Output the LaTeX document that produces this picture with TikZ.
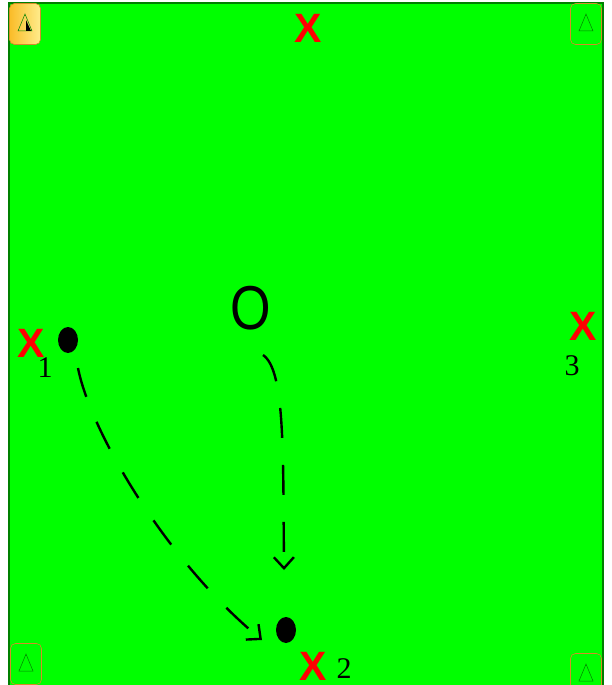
\documentclass[tikz,border=0pt]{standalone}
\usepackage{fontspec}
\setmainfont{Liberation Serif}
\setsansfont{Liberation Sans}
\usetikzlibrary{arrows.meta,calc,positioning,shapes.geometric}
\definecolor{fdGreen}{RGB}{0,255,0}
\definecolor{fdLine}{RGB}{0,128,0}
\definecolor{fdCone}{RGB}{214,140,40}
\definecolor{fdRed}{RGB}{255,0,0}
\definecolor{fdGold}{RGB}{250,188,40}
\definecolor{fdPale}{RGB}{255,236,140}
\tikzset{
  cornerbox/.style={draw=fdCone,rounded corners=5pt,minimum width=31pt,
    minimum height=41pt,inner sep=0pt,line width=0.6pt},
  player/.style={ellipse,fill=black,minimum width=20pt,minimum height=26pt,inner sep=0pt},
  cross/.style={text=fdRed,inner sep=0pt,font=\sffamily\bfseries\fontsize{41}{41}\selectfont},
  num/.style={inner sep=0pt,font=\fontsize{30}{30}\selectfont},
  run/.style={line width=2.4pt,dash pattern=on 30pt off 27pt,
    -{Straight Barb[length=11pt,width=20pt]}}
}
\newcommand{\conemark}[1]{%
  \node[cornerbox] (#1) at (0,0) {};
  \draw[draw=fdLine,line width=0.5pt] (-7,7)--(0,-10)--(7,7)--cycle;
}

\begin{document}
\begin{tikzpicture}[x=1pt,y=-1pt]
  \useasboundingbox (0,0) rectangle (612,685);
  % pitch
  \draw[fill=fdGreen,draw=fdLine,line width=1.5pt] (9,3) rectangle (603,692);
  % cones
  \begin{scope}[shift={(25,24)}]
    \node[cornerbox,left color=fdGold,right color=fdPale] (cTL) at (0,0) {};
    \draw[draw=fdLine,line width=0.5pt] (-7,7)--(0,-10)--(7,7)--cycle;
    \fill[black] (1,-4)--(6,7)--(1,7)--cycle;
  \end{scope}
  \begin{scope}[shift={(586,24)}]\conemark{cTR}\end{scope}
  \begin{scope}[shift={(26,664)}]\conemark{cBL}\end{scope}
  \begin{scope}[shift={(586,674)}]\conemark{cBR}\end{scope}
  % marks
  \node[cross] (xTop) at (308,28) {X};
  \node[cross] (xOne) at (31,343) {X};
  \node[cross] (xThree) at (583,326) {X};
  \node[cross] (xTwo) at (313,666) {X};
  \node[num] (nOne) at (45,368) {1};
  \node[num] (nThree) at (572,366) {3};
  \node[num] (nTwo) at (344,669) {2};
  % players
  \node[player] (pOne) at (68,340) {};
  \node[player] (pTwo) at (286,630) {};
  \node[inner sep=0pt,font=\sffamily\fontsize{62}{62}\selectfont] (ball) at (251,308)
    {\scalebox{0.84}[1]{O}};
  % runs
  \coordinate (runAs) at ([shift={(10,28)}]pOne.center);
  \coordinate (runAe) at ([shift={(-24,10)}]pTwo.center);
  \coordinate (runBs) at ([shift={(12,47)}]ball.center);
  \coordinate (runBe) at ([shift={(-2,-60)}]pTwo.center);
  \draw[run] (runAs) .. controls (90,430) and (165,560) .. (runAe);
  \draw[run] (runBs) .. controls (285,370) and (283,450) .. (runBe);
\end{tikzpicture}
\end{document}
